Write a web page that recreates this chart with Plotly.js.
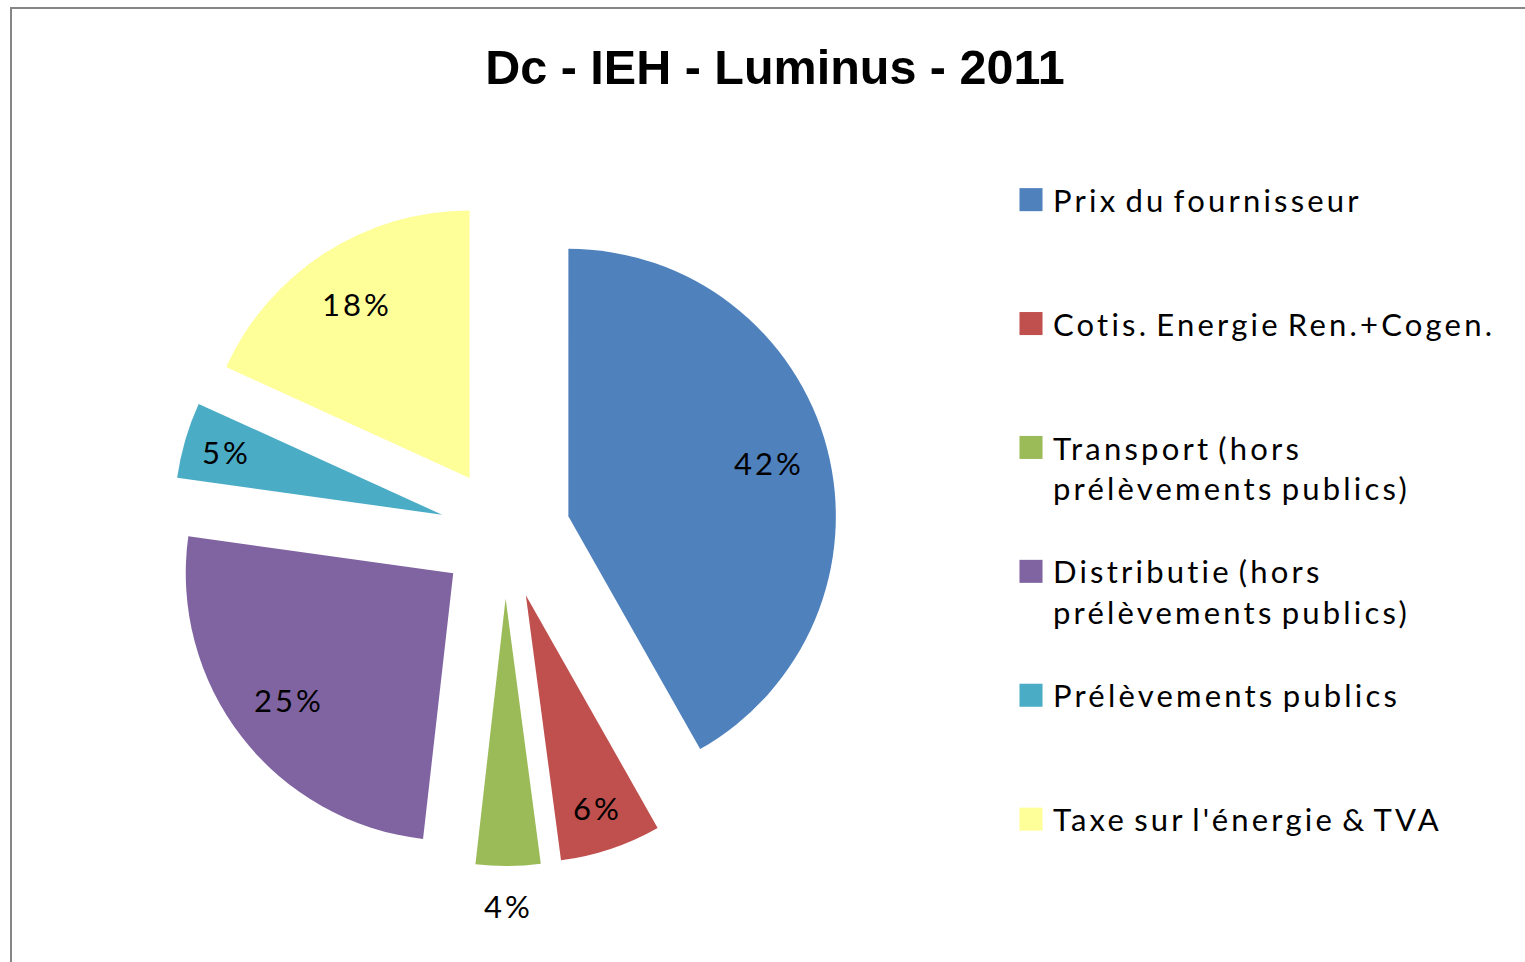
<!DOCTYPE html>
<html>
<head>
<meta charset="utf-8">
<script src="https://cdn.plot.ly/plotly-3.0.1.min.js"></script>
<style>
  html, body { margin: 0; padding: 0; background: #ffffff; }
  #chart { width: 1525px; height: 962px; }
  .legend .legendpie { transform: translate(18px, 0px) scale(1.92); }
  .legendtext { letter-spacing: 3.2px; word-spacing: -4px; }
  .annotation-text { letter-spacing: 3px; }
</style>
</head>
<body>
<div id="chart"></div>
<script>
// ---- Data ----
const chartTitle = "Dc - IEH - Luminus - 2011";
const categories = [
  "Prix du fournisseur",
  "Cotis. Energie Ren.+Cogen.",
  "Transport (hors<br>prélèvements publics)",
  "Distributie (hors<br>prélèvements publics)",
  "Prélèvements publics",
  "Taxe sur l'énergie & TVA"
];
const shares = [41.8, 6.1, 3.9, 25.4, 4.6, 18.2];
const sliceColors = ["#4F81BD", "#C0504D", "#9BBB59", "#8064A2", "#4BACC6", "#FFFF99"];
const labelPlacement = ["inside", "inside", "outside", "inside", "inside", "inside"];

// ---- Layout constants ----
const W = 1525, H = 962;
const PIE_BOX = { x0: 172, x1: 838, y0: 200, y1: 866 };   // pie domain in px
const PULL = 0.245;
const LABEL_FONT = { family: "Lato, 'Open Sans', sans-serif", size: 31, color: "#000000" };
const LINES_PER_ITEM = 3;

// pad every legend label to the same number of lines so the items are evenly spaced
const legendLabels = categories.map(c => {
  const n = c.split("<br>").length;
  let s = c;
  for (let i = n; i < LINES_PER_ITEM; i++) s += "<br>&nbsp;";
  return s;
});

// percentage labels, placed along each slice bisector (Excel-style label placement)
const total = shares.reduce((a, b) => a + b, 0);
const cx = (PIE_BOX.x0 + PIE_BOX.x1) / 2;
const cy = (PIE_BOX.y0 + PIE_BOX.y1) / 2;
const R = (PIE_BOX.x1 - PIE_BOX.x0) / (2 + 2 * PULL);
let cum = 0;
const labelAnnotations = shares.map((v, i) => {
  const a0 = cum / total * 2 * Math.PI;
  cum += v;
  const a1 = cum / total * 2 * Math.PI;
  const am = (a0 + a1) / 2;
  const dx = Math.sin(am), dy = -Math.cos(am);
  const frac = v / total;
  const k = labelPlacement[i] === "outside" ? 1.15 : (frac > 0.1 ? 0.775 : 0.84);
  const px = cx + (PULL + k) * R * dx;
  const py = cy + (PULL + k) * R * dy;
  return {
    xref: "paper", yref: "paper",
    x: px / W, y: 1 - py / H,
    xanchor: "center", yanchor: "middle",
    text: Math.round(frac * 100) + "%",
    showarrow: false,
    font: LABEL_FONT
  };
});

const trace = {
  type: "pie",
  labels: legendLabels,
  values: shares,
  sort: false,
  direction: "clockwise",
  rotation: 0,
  pull: shares.map(() => PULL),
  marker: { colors: sliceColors, line: { width: 0 } },
  textinfo: "none",
  textposition: "none",
  hoverinfo: "label+percent",
  automargin: false,
  domain: { x: [PIE_BOX.x0 / W, PIE_BOX.x1 / W], y: [1 - PIE_BOX.y1 / H, 1 - PIE_BOX.y0 / H] }
};

const layout = {
  width: W,
  height: H,
  margin: { l: 0, r: 0, t: 0, b: 0 },
  paper_bgcolor: "#ffffff",
  plot_bgcolor: "#ffffff",
  title: {
    text: "<b>" + chartTitle + "</b>",
    font: { family: "'Liberation Sans', Arial, sans-serif", size: 48.5, color: "#000000" },
    x: 775 / W, xanchor: "center", xref: "container",
    y: 1 - 67 / H, yanchor: "middle", yref: "container"
  },
  showlegend: true,
  legend: {
    x: 1013 / W, xanchor: "left",
    y: 1 - 173 / H, yanchor: "top",
    valign: "top",
    font: LABEL_FONT,
    bgcolor: "rgba(0,0,0,0)",
    borderwidth: 0
  },
  annotations: labelAnnotations,
  shapes: [{
    type: "rect", xref: "paper", yref: "paper",
    x0: 11 / W, x1: 1.05, y0: 1 - 8 / H, y1: -0.05,
    line: { color: "#868686", width: 2 }, fillcolor: "rgba(0,0,0,0)"
  }]
};

Plotly.newPlot("chart", [trace], layout, { displayModeBar: false, staticPlot: true });
</script>
</body>
</html>
